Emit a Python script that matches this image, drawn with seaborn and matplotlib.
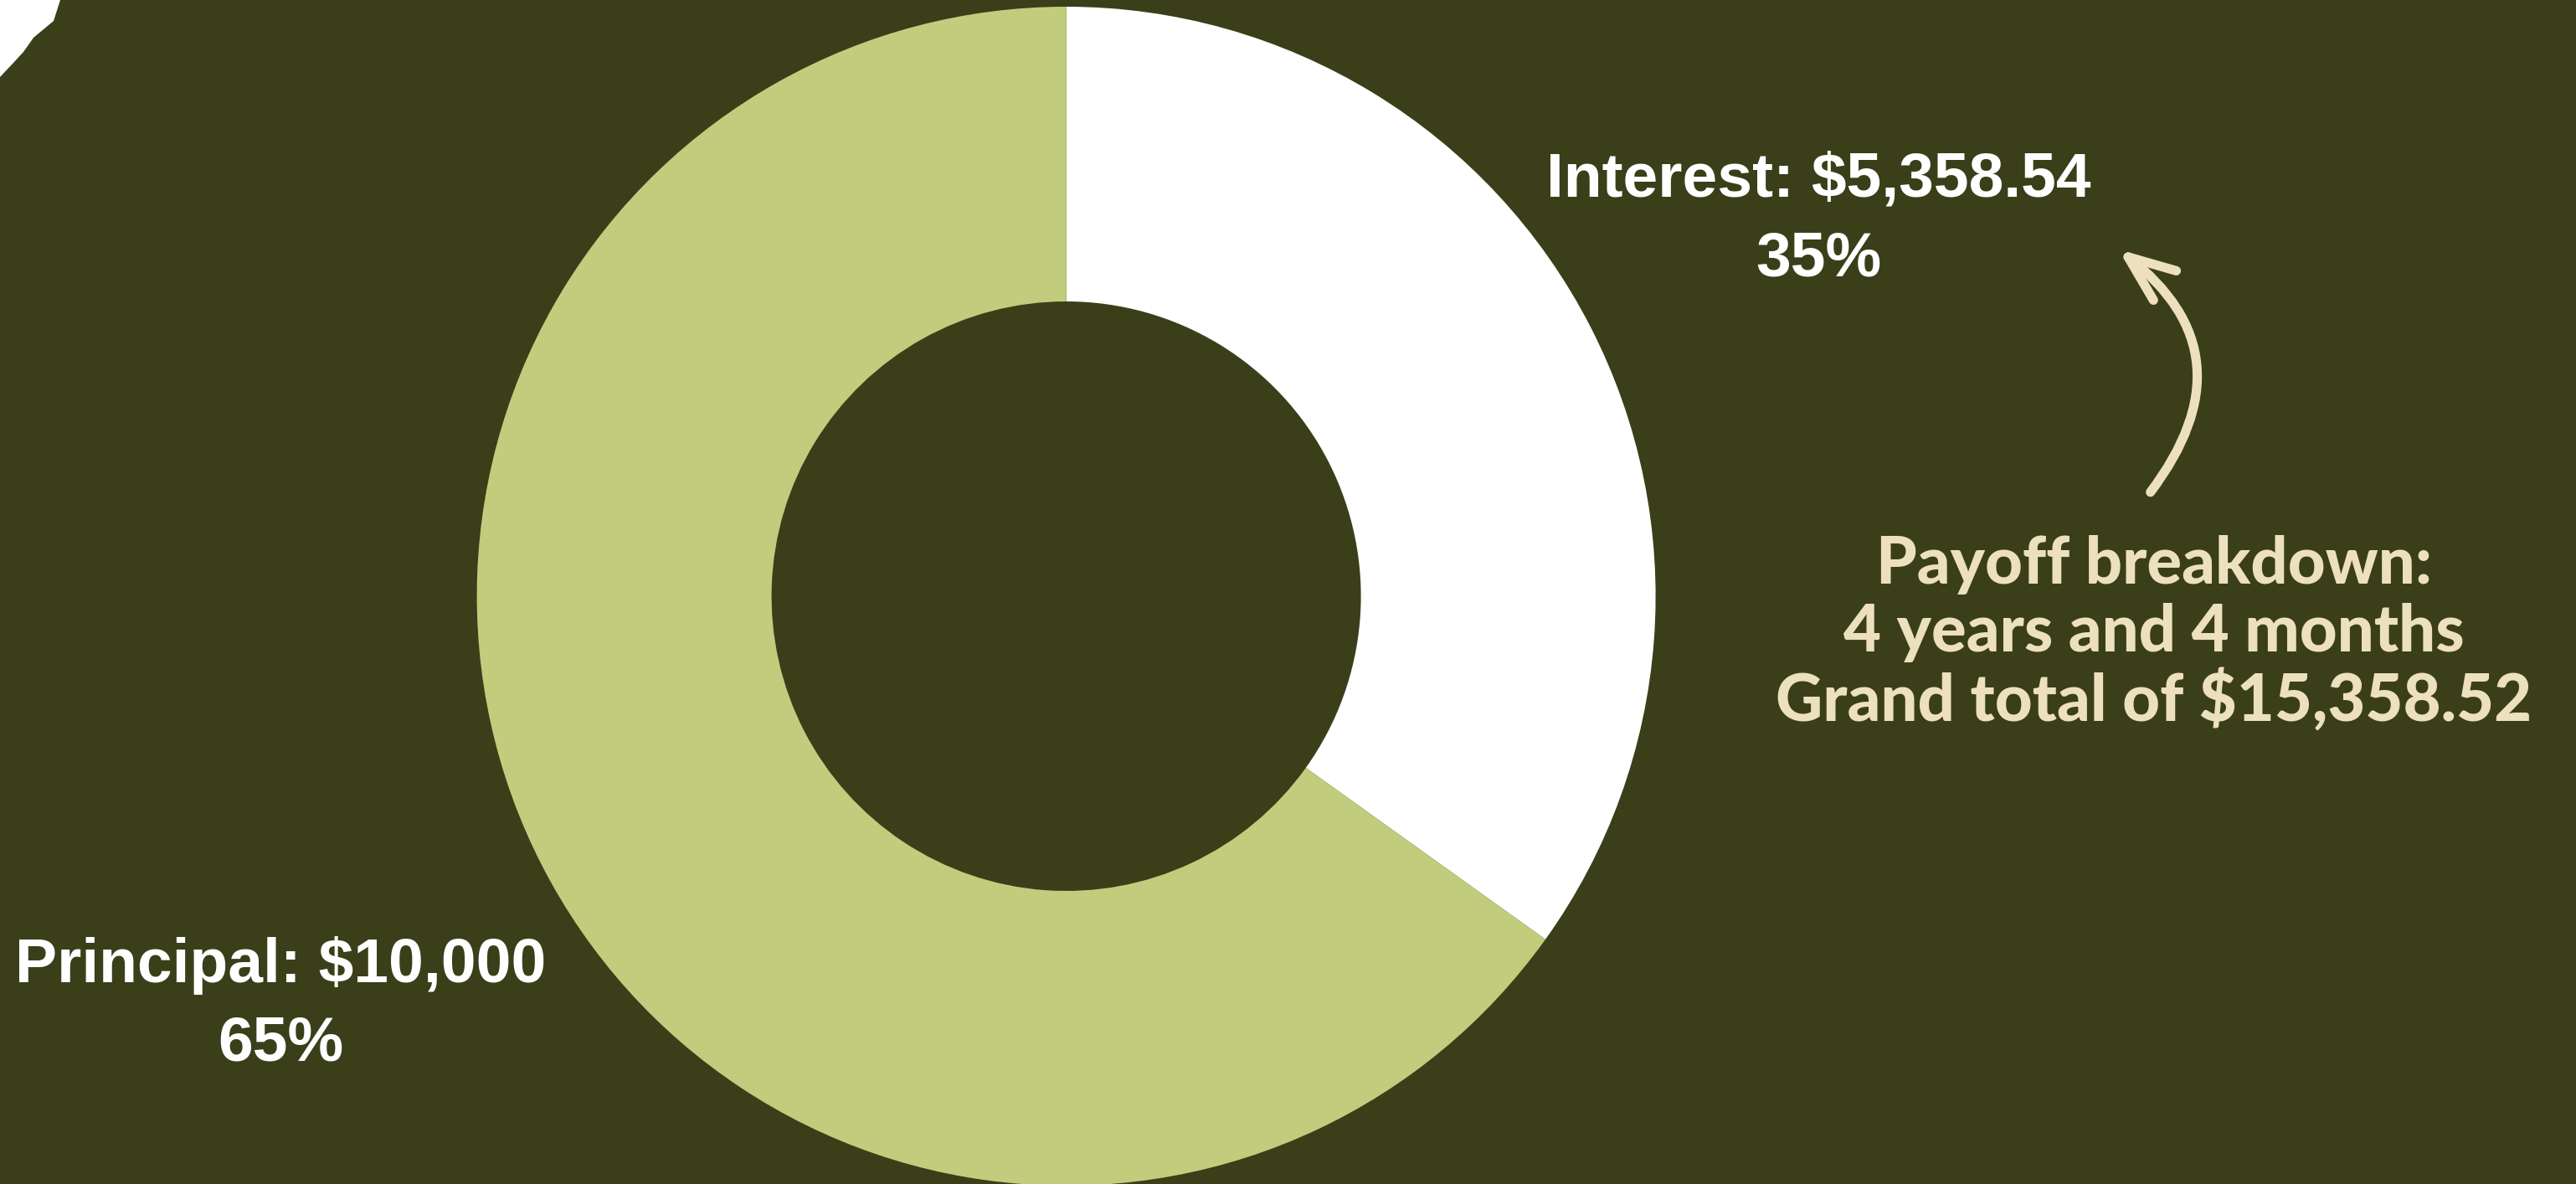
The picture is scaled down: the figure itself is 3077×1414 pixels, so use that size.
import matplotlib
matplotlib.use("Agg")
import matplotlib.pyplot as plt
import seaborn as sns
from matplotlib.patches import FancyArrowPatch, Polygon
from matplotlib import font_manager

categories = ["Interest", "Principal"]
values = [5358.54, 10000.00]
percent_labels = ["35%", "65%"]
value_labels = ["Interest: $5,358.54", "Principal: $10,000"]
summary_lines = ["Payoff breakdown:", "4 years and 4 months", "Grand total of $15,358.52"]

BG = "#3a3f19"
GREEN = "#c1cd7d"
WHITE = "#ffffff"
CREAM = "#ede0bd"

sns.set_theme(style="white")
palette = sns.color_palette([WHITE, GREEN])

names = {f.name for f in font_manager.fontManager.ttflist}
label_font = ["Liberation Sans Narrow"] if "Liberation Sans Narrow" in names else ["Liberation Sans", "DejaVu Sans"]
summary_font = ["Lato", "DejaVu Sans"]

W, H = 3077, 1414
fig = plt.figure(figsize=(W / 100, H / 100), dpi=100)
fig.patch.set_facecolor(BG)

cx, cy, R = 1273.6, 1414 - 712, 704
ax = fig.add_axes([(cx - R) / W, (cy - R) / H, 2 * R / W, 2 * R / H])
ax.set_facecolor(BG)
ax.pie(values, colors=palette, startangle=90, counterclock=False,
       radius=1.0, wedgeprops=dict(width=0.5, linewidth=0))
ax.set_xlim(-1, 1)
ax.set_ylim(-1, 1)
ax.set_aspect("equal")
ax.axis("off")

def ft(x, y, s, **kw):
    fig.text(x / W, 1 - y / H, s, ha="center", va="center", **kw)

lab_kw = dict(color=WHITE, fontsize=54, fontweight="bold", family=label_font)
ft(2172, 215, value_labels[0], **lab_kw)
ft(2172, 310, percent_labels[0], **lab_kw)
ft(335, 1153, value_labels[1], **lab_kw)
ft(335, 1247, percent_labels[1], **lab_kw)

sum_kw = dict(color=CREAM, fontsize=56, fontweight="black", family=summary_font)
for i, line in enumerate(summary_lines):
    ft(2573, 675 + i * 80.5, line, **sum_kw)

arrow = FancyArrowPatch((2567 / W, 1 - 590 / H), (2528 / W, 1 - 296 / H),
                        transform=fig.transFigure,
                        connectionstyle="arc3,rad=0.5",
                        arrowstyle="->,head_length=40,head_width=16",
                        color=CREAM, linewidth=8, capstyle="round", joinstyle="round")
fig.patches.append(arrow)

# decorative white corner shape (top-left)
corner = Polygon([(0, 1), (72 / W, 1), (64 / W, 1 - 25 / H), (40 / W, 1 - 45 / H),
                  (28 / W, 1 - 62 / H), (16 / W, 1 - 75 / H), (0, 1 - 92 / H)],
                 closed=True, transform=fig.transFigure, facecolor=WHITE, edgecolor="none")
fig.patches.append(corner)

fig.savefig("out.png", dpi=100, facecolor=BG)
